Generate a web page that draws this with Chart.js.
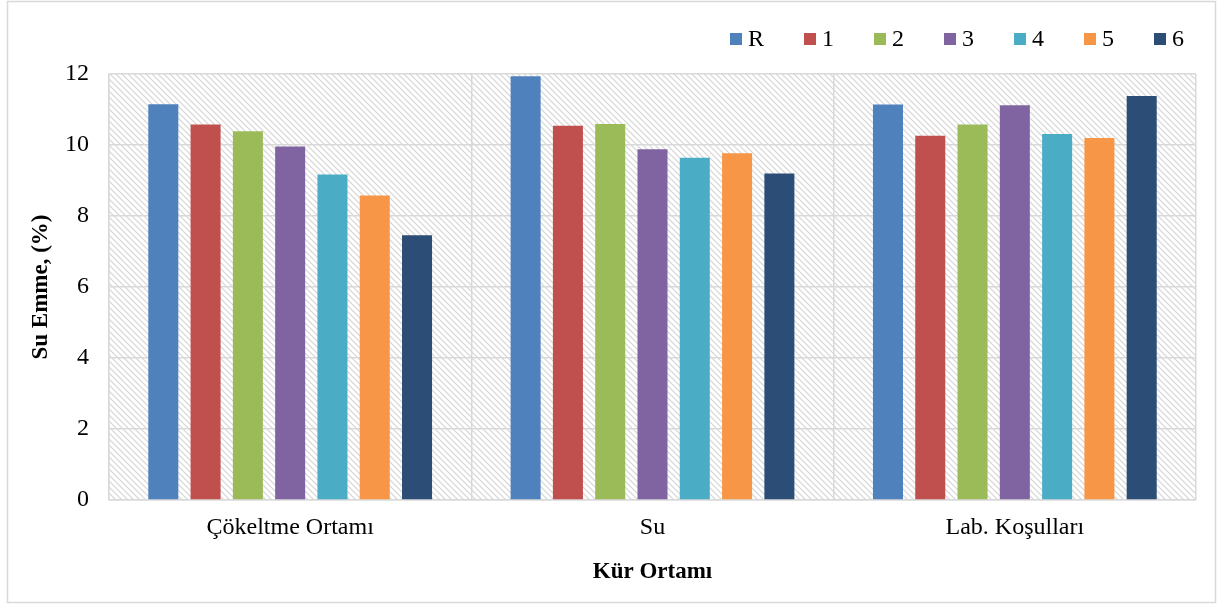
<!DOCTYPE html>
<html>
<head>
<meta charset="utf-8">
<script src="https://cdn.jsdelivr.net/npm/chart.js@4.4.1/dist/chart.umd.min.js"></script>
<style>
  html, body { margin: 0; padding: 0; background: #fff; }
  #wrap { width: 1217px; height: 605px; position: relative; }
</style>
</head>
<body>
<div id="wrap"><canvas id="chart"></canvas></div>
<script>
const categories = ['Çökeltme Ortamı', 'Su', 'Lab. Koşulları'];
const seriesNames = ['R', '1', '2', '3', '4', '5', '6'];
const seriesColors = ['#4F81BD', '#C0504D', '#9BBB59', '#8064A2', '#4BACC6', '#F79646', '#2C4D75'];

const valuesR = [11.15, 11.94, 11.14];
const values1 = [10.58, 10.54, 10.26];
const values2 = [10.39, 10.59, 10.58];
const values3 = [9.96, 9.88, 11.12];
const values4 = [9.17, 9.64, 10.31];
const values5 = [8.58, 9.77, 10.20];
const values6 = [7.46, 9.20, 11.38];

const yTicks = [0, 2, 4, 6, 8, 10, 12];

const allValues = [valuesR, values1, values2, values3, values4, values5, values6];

const serif = '"Liberation Serif", "Times New Roman", serif';

// diagonal hatch used behind the bars
function makeHatch(ctx) {
  const c = document.createElement('canvas');
  c.width = 6; c.height = 6;
  const g = c.getContext('2d');
  g.fillStyle = '#ffffff';
  g.fillRect(0, 0, 6, 6);
  g.strokeStyle = '#d4d4d4';
  g.lineWidth = 1.2;
  g.beginPath();
  g.moveTo(-1, -1); g.lineTo(7, 7);
  g.moveTo(-7, -1); g.lineTo(1, 7);
  g.moveTo(5, -1); g.lineTo(13, 7);
  g.stroke();
  return ctx.createPattern(c, 'repeat');
}

const backdropPlugin = {
  id: 'backdrop',
  beforeDraw: (chart) => {
    const { ctx, chartArea } = chart;
    ctx.save();
    ctx.fillStyle = '#ffffff';
    ctx.fillRect(0, 0, chart.width, chart.height);
    ctx.strokeStyle = '#d9d9d9';
    ctx.lineWidth = 1.5;
    ctx.strokeRect(7.5, 1.5, 1208, 601);
    ctx.fillStyle = makeHatch(ctx);
    ctx.fillRect(chartArea.left, chartArea.top, chartArea.right - chartArea.left, chartArea.bottom - chartArea.top);
    ctx.restore();
  }
};

// legend drawn like the office one: small square, short gap, label
const legendPlugin = {
  id: 'officeLegend',
  afterDraw: (chart) => {
    const { ctx } = chart;
    const box = 12, gap = 6, spacing = 40;
    ctx.save();
    ctx.font = `24px ${serif}`;
    ctx.textBaseline = 'middle';
    const sets = chart.data.datasets;
    let total = 0;
    sets.forEach((ds, i) => {
      total += box + gap + ctx.measureText(ds.label).width + (i < sets.length - 1 ? spacing : 0);
    });
    let x = 1184 - total;
    const y = 39;
    sets.forEach((ds) => {
      ctx.fillStyle = ds.backgroundColor;
      ctx.fillRect(x, y - box / 2, box, box);
      x += box + gap;
      ctx.fillStyle = '#000';
      ctx.fillText(ds.label, x, y + 1);
      x += ctx.measureText(ds.label).width + spacing;
    });
    ctx.restore();
  }
};

new Chart(document.getElementById('chart'), {
  type: 'bar',
  data: {
    labels: categories,
    datasets: seriesNames.map((name, i) => ({
      label: name,
      data: allValues[i],
      backgroundColor: seriesColors[i],
      borderWidth: 0,
      categoryPercentage: 0.817,
      barPercentage: 0.71
    }))
  },
  options: {
    responsive: true,
    maintainAspectRatio: false,
    animation: false,
    layout: { padding: { left: 0, right: 21, top: 74, bottom: 0 } },
    plugins: {
      tooltip: { enabled: false },
      legend: { display: false }
    },
    scales: {
      x: {
        grid: { color: '#d9d9d9', lineWidth: 1.5, offset: true, drawTicks: false },
        border: { color: '#d9d9d9', width: 1.5 },
        ticks: { color: '#000', padding: 13, font: { family: serif, size: 24 } },
        title: {
          display: true,
          text: 'Kür Ortamı',
          color: '#000',
          font: { family: serif, size: 23, weight: 'bold' },
          padding: { top: 0, bottom: 19 }
        },
        afterFit: (scale) => { scale.height = 105; }
      },
      y: {
        min: 0,
        max: 12,
        afterBuildTicks: (scale) => { scale.ticks = yTicks.map(v => ({ value: v })); },
        grid: { color: '#d9d9d9', lineWidth: 1.5, drawTicks: false },
        border: { color: '#d9d9d9', width: 1.5 },
        ticks: { color: '#000', padding: 20, font: { family: serif, size: 24 } },
        title: {
          display: true,
          text: 'Su Emme, (%)',
          color: '#000',
          font: { family: serif, size: 23, weight: 'bold' },
          padding: { top: 27, bottom: 0 }
        },
        afterFit: (scale) => { scale.width = 109; }
      }
    }
  },
  plugins: [backdropPlugin, legendPlugin]
});
</script>
</body>
</html>
